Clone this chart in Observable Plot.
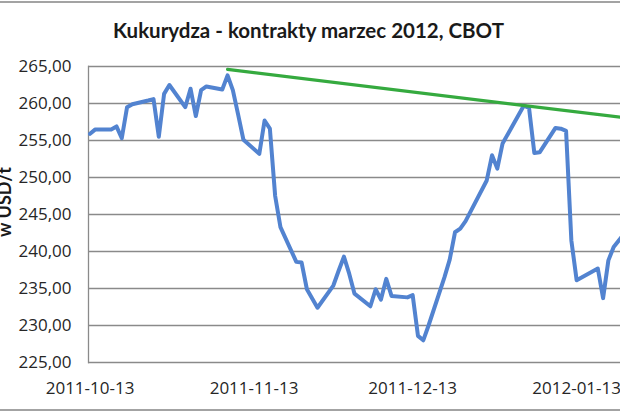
<!DOCTYPE html>
<html>
<head>
<meta charset="utf-8">
<script src="https://cdn.jsdelivr.net/npm/d3@7"></script>
<script src="https://cdn.jsdelivr.net/npm/@observablehq/plot@0.6"></script>
<style>
  html, body { margin: 0; padding: 0; background: #fff; }
  #wrap { position: relative; width: 620px; height: 413px; overflow: hidden; background: #fff; }
  .border { position: absolute; left: 0; width: 620px; height: 0; border-top: 2px solid #a3a3a3; }
  #wrap svg { position: absolute; left: 0; top: 0; }
</style>
</head>
<body>
<div id="wrap">
  <div class="border" style="top:1px"></div>
  <div class="border" style="top:409px"></div>
</div>
<script>
const titleText = "Kukurydza - kontrakty marzec 2012, CBOT";
const yLabelText = "w USD/t";

// trading days (CBOT) and close prices, USD/t
const dates = [
  "2011-10-13","2011-10-14","2011-10-17","2011-10-18","2011-10-19","2011-10-20","2011-10-21",
  "2011-10-24","2011-10-25","2011-10-26","2011-10-27","2011-10-28",
  "2011-10-31","2011-11-01","2011-11-02","2011-11-03","2011-11-04",
  "2011-11-07","2011-11-08","2011-11-09","2011-11-10","2011-11-11",
  "2011-11-14","2011-11-15","2011-11-16","2011-11-17","2011-11-18",
  "2011-11-21","2011-11-22","2011-11-23","2011-11-25",
  "2011-11-28","2011-11-29","2011-11-30","2011-12-01","2011-12-02",
  "2011-12-05","2011-12-06","2011-12-07","2011-12-08","2011-12-09",
  "2011-12-12","2011-12-13","2011-12-14","2011-12-15","2011-12-16",
  "2011-12-19","2011-12-20","2011-12-21","2011-12-22","2011-12-23",
  "2011-12-27","2011-12-28","2011-12-29","2011-12-30",
  "2012-01-03","2012-01-04","2012-01-05","2012-01-06",
  "2012-01-09","2012-01-10","2012-01-11","2012-01-12","2012-01-13",
  "2012-01-17","2012-01-18","2012-01-19","2012-01-20","2012-01-23"
];
const prices = [
  255.9,256.5,256.5,256.9,255.3,259.5,259.9,
  260.4,260.6,255.5,261.3,262.5,
  259.5,262.0,258.3,261.8,262.3,
  261.9,263.8,261.8,258.5,255.1,
  253.2,257.7,256.6,247.5,243.3,
  238.6,238.5,234.9,232.4,
  235.4,237.4,239.3,237.0,234.3,
  232.6,234.9,233.5,236.3,234.0,
  233.8,234.1,228.6,228.0,230.0,
  236.5,238.9,242.6,243.1,244.1,
  249.6,253.0,251.2,254.6,
  259.7,259.4,253.3,253.4,
  256.7,256.6,256.3,241.5,236.1,
  237.7,233.7,238.8,240.6,243.3
];

// resistance trend line
const trendDates = ["2011-11-08","2012-01-23"];
const trendValues = [264.6, 258.0];

const yTicks = [225,230,235,240,245,250,255,260,265];
const xTickDates = ["2011-10-13","2011-11-13","2011-12-13","2012-01-13"];
const xDomain = ["2011-10-12T17:00Z","2012-01-21T07:00Z"];

const parse = s => new Date(s.length === 10 ? s + "T00:00Z" : s);
const series = dates.map((d, i) => ({date: parse(d), value: prices[i]}));
const trend = trendDates.map((d, i) => ({date: parse(d), value: trendValues[i]}));

const fmtY = d => d.toFixed(2).replace(".", ",");
const fmtX = d3.utcFormat("%Y-%m-%d");

const chart = Plot.plot({
  width: 620,
  height: 413,
  marginTop: 66,
  marginBottom: 51,
  marginLeft: 88,
  marginRight: 0,
  style: {background: "transparent", fontFamily: "Open Sans", color: "#262626"},
  x: {type: "utc", domain: xDomain.map(parse)},
  y: {domain: [225, 265]},
  marks: [
    Plot.gridY(yTicks, {stroke: "#8a8a8a", strokeOpacity: 1, strokeWidth: 1.3}),
    Plot.frame({anchor: "left", stroke: "#8a8a8a", strokeWidth: 1.3}),
    Plot.axisY({ticks: yTicks, tickFormat: fmtY, tickSize: 0, tickPadding: 17, fontSize: 17, label: null}),
    Plot.axisX({ticks: xTickDates.map(parse), tickFormat: fmtX, tickSize: 0, tickPadding: 19, fontSize: 17, label: null}),
    Plot.line(series, {x: "date", y: "value", stroke: "#5283d0", strokeWidth: 4, clip: true}),
    Plot.line(trend, {x: "date", y: "value", stroke: "#35aa3f", strokeWidth: 3.2, clip: true}),
    Plot.text([titleText], {frameAnchor: "top-left", dx: 220, dy: -29, lineAnchor: "bottom", textAnchor: "middle",
      fontFamily: "Lato", fontWeight: "bold", fontSize: 20.5, fill: "#1a1a1a"}),
    Plot.text([yLabelText], {frameAnchor: "left", dx: -78, dy: -12.5, rotate: -90, lineAnchor: "bottom", textAnchor: "middle",
      fontFamily: "Lato", fontWeight: "bold", fontSize: 18, fill: "#1a1a1a"})
  ]
});
document.getElementById("wrap").appendChild(chart);
</script>
</body>
</html>
